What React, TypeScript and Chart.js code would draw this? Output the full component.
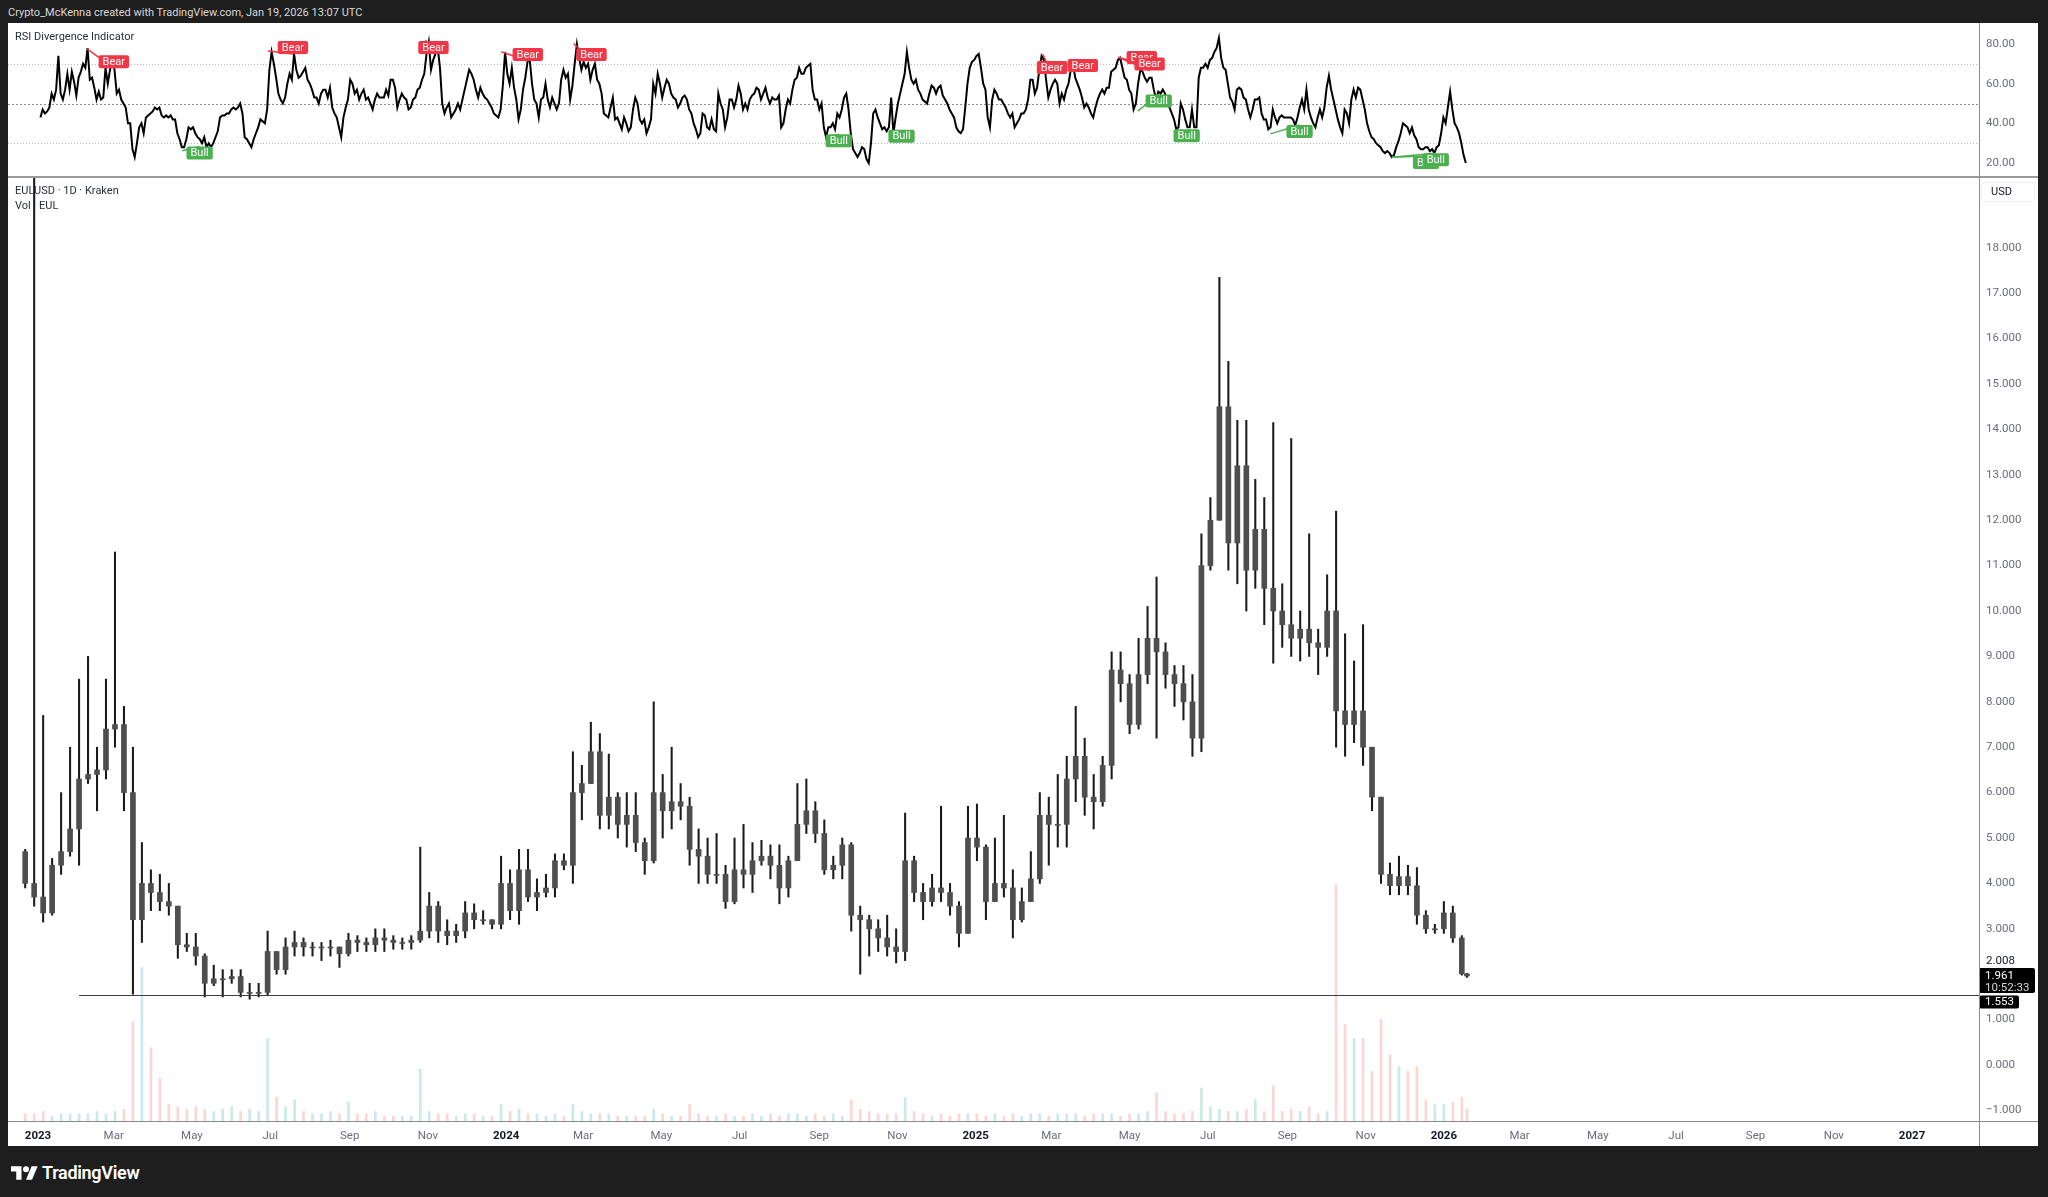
import React, { useEffect, useRef } from "react";
import { Chart, registerables } from "chart.js";

Chart.register(...registerables);

// ---------------- data (days are counted from 2023-01-01 UTC) ----------------
const FIRST_WEEK_START_DAY = -13; // Monday 2022-12-19
const LAST_DAY = 1114; // Monday 2026-01-19
const FIRST_OPEN = 4.7;

// weekly candles (EULUSD, Kraken)
const weeklyHigh = [
  4.75, 21, 7.7, 4.55, 6.0, 7.0, 8.5, 9.0, 7.0, 8.5,
  11.3, 7.9, 7.0, 4.9, 4.3, 4.2, 4.0, 3.5, 2.9, 2.9,
  2.45, 2.2, 2.1, 2.1, 2.1, 1.8, 1.8, 2.95, 2.5, 2.8,
  2.95, 2.8, 2.7, 2.7, 2.75, 2.6, 2.9, 2.85, 2.8, 3.0,
  3.0, 2.85, 2.8, 2.85, 4.8, 3.8, 3.6, 3.2, 3.1, 3.6,
  3.55, 3.4, 3.2, 4.6, 4.3, 4.75, 4.75, 4.1, 4.2, 4.65,
  4.65, 6.9, 6.6, 7.55, 7.3, 6.85, 6.0, 6.0, 6.0, 5.0,
  8.0, 6.4, 7.0, 6.2, 5.9, 5.2, 5.0, 5.1, 4.4, 5.0,
  5.3, 4.9, 4.95, 4.85, 4.85, 4.6, 6.2, 6.3, 5.8, 5.4,
  4.6, 5.0, 4.9, 3.5, 3.3, 3.2, 3.3, 3.0, 5.55, 4.6,
  4.0, 4.2, 5.7, 4.0, 3.6, 5.7, 5.75, 4.85, 5.0, 5.5,
  4.3, 3.9, 4.7, 6.0, 5.9, 6.4, 6.8, 7.9, 7.2, 6.4,
  6.8, 9.1, 9.1, 8.6, 9.4, 10.1, 10.75, 9.3, 8.8, 8.8,
  8.6, 11.7, 12.5, 17.35, 15.5, 14.2, 14.2, 12.9, 12.5, 14.15,
  10.6, 13.8, 10.0, 11.7, 9.6, 10.8, 12.2, 9.5, 8.9, 9.7,
  7.0, 5.9, 4.45, 4.6, 4.4, 4.35, 3.4, 3.1, 3.6, 3.5,
  2.85, 2.02,
];
const weeklyLow = [
  3.9, 3.5, 3.15, 3.3, 4.2, 4.6, 4.4, 6.2, 5.6, 6.3,
  7.0, 5.6, 1.56, 2.7, 3.4, 3.4, 3.3, 2.35, 2.5, 2.2,
  1.5, 1.75, 1.5, 1.8, 1.5, 1.45, 1.5, 1.55, 2.0, 2.0,
  2.4, 2.4, 2.4, 2.3, 2.4, 2.15, 2.4, 2.5, 2.5, 2.5,
  2.5, 2.55, 2.55, 2.55, 2.7, 2.8, 2.7, 2.65, 2.7, 2.8,
  3.0, 3.1, 3.0, 3.0, 3.2, 3.1, 3.6, 3.4, 3.7, 3.7,
  4.3, 4.0, 5.4, 6.2, 5.2, 5.2, 5.0, 4.8, 4.7, 4.2,
  4.45, 5.0, 5.2, 5.4, 4.4, 4.0, 4.0, 4.0, 3.45, 3.55,
  3.9, 3.8, 4.4, 4.1, 3.55, 3.7, 4.5, 5.1, 4.9, 4.2,
  4.1, 4.1, 2.95, 2.0, 2.4, 2.5, 2.4, 2.25, 2.3, 3.6,
  3.2, 3.5, 3.6, 3.3, 2.6, 2.9, 4.5, 3.2, 3.6, 3.7,
  2.8, 3.15, 3.6, 4.0, 4.4, 4.8, 4.8, 5.8, 5.5, 5.2,
  5.7, 6.3, 8.0, 7.3, 7.4, 8.4, 7.2, 8.3, 7.9, 7.6,
  6.8, 6.9, 10.9, 12.0, 10.9, 10.6, 10.0, 10.5, 9.7, 8.85,
  9.2, 9.0, 8.9, 9.0, 8.6, 9.0, 7.0, 6.8, 7.1, 6.6,
  5.6, 4.0, 3.75, 3.75, 3.75, 3.1, 2.9, 2.9, 2.9, 2.7,
  1.98, 1.93,
];
const weeklyClose = [
  4.0, 3.7, 3.35, 4.4, 4.7, 5.2, 6.3, 6.4, 6.5, 7.4,
  7.5, 6.0, 3.2, 4.0, 3.8, 3.6, 3.5, 2.65, 2.6, 2.4,
  1.8, 1.9, 1.9, 1.95, 1.6, 1.6, 1.6, 2.5, 2.1, 2.6,
  2.7, 2.6, 2.6, 2.6, 2.6, 2.45, 2.75, 2.7, 2.65, 2.8,
  2.75, 2.7, 2.7, 2.75, 2.95, 3.5, 2.95, 2.85, 2.95, 3.35,
  3.2, 3.2, 3.1, 4.0, 3.4, 4.3, 3.7, 3.8, 3.9, 4.5,
  4.4, 6.0, 6.2, 6.9, 5.5, 5.9, 5.3, 5.5, 4.9, 4.5,
  6.0, 5.6, 5.8, 5.7, 4.75, 4.6, 4.2, 4.2, 3.6, 4.3,
  4.2, 4.5, 4.6, 4.4, 3.9, 4.5, 5.3, 5.6, 5.1, 4.3,
  4.4, 4.85, 3.3, 3.2, 3.0, 2.8, 2.6, 2.5, 4.5, 3.8,
  3.6, 3.9, 3.8, 3.5, 2.9, 5.0, 4.8, 3.6, 4.0, 3.9,
  3.2, 3.6, 4.1, 5.5, 5.3, 5.3, 6.3, 6.8, 5.9, 5.8,
  6.6, 8.7, 8.4, 7.5, 8.6, 9.4, 9.1, 8.6, 8.4, 8.0,
  7.2, 11.0, 12.0, 14.5, 11.5, 13.2, 10.9, 11.8, 10.5, 10.0,
  9.7, 9.4, 9.6, 9.3, 9.2, 10.0, 7.8, 7.5, 7.8, 7.0,
  5.9, 4.2, 3.95, 4.15, 3.95, 3.3, 3.0, 3.0, 3.35, 2.8,
  2.008, 1.961,
];
// peak daily volume of each week, relative (100 = largest bar)
const weeklyVolume = [
  3, 3, 4, 2, 3, 3, 3, 3, 4, 3,
  4, 5, 42, 65, 31, 18, 7, 6, 5, 6,
  5, 4, 5, 6, 4, 5, 4, 35, 10, 6,
  9, 4, 3, 3, 4, 3, 8, 3, 3, 4,
  2, 2, 2, 2, 22, 4, 3, 3, 2, 3,
  3, 2, 2, 7, 4, 5, 3, 3, 2, 3,
  2, 7, 4, 3, 3, 3, 2, 2, 2, 2,
  5, 3, 2, 2, 7, 3, 2, 2, 3, 2,
  2, 3, 2, 3, 2, 3, 3, 2, 3, 2,
  3, 2, 9, 5, 4, 3, 3, 3, 10, 4,
  3, 2, 3, 2, 3, 3, 3, 2, 3, 2,
  3, 2, 3, 3, 2, 3, 3, 3, 2, 3,
  3, 3, 2, 3, 3, 4, 12, 4, 3, 3,
  4, 14, 6, 5, 4, 4, 5, 9, 4, 15,
  4, 5, 4, 6, 3, 4, 100, 41, 35, 35,
  21, 43, 28, 23, 21, 23, 9, 7, 7, 8,
  10, 5,
];

// RSI (14) sampled every 1.75 days
const RSI_FIRST_DAY = 1.875;
const RSI_STEP_DAYS = 1.75;
const rsiValues = [
  43, 47, 45, 46, 48, 55, 52, 57, 74, 55, 52, 57, 65, 57, 66, 61, 54, 63, 66, 70,
  68, 78, 62, 63, 58, 52, 56, 52, 53, 68, 60, 67, 72, 67, 55, 57, 52, 50, 48, 40,
  40, 27, 23, 30, 38, 40, 35, 43, 44, 45, 46, 48, 47, 48, 44, 43, 44, 43, 44, 42,
  42, 35, 32, 28, 28, 32, 38, 37, 38, 35, 33, 32, 30, 33, 28, 30, 28, 30, 33, 36,
  43, 44, 44, 45, 45, 47, 48, 47, 48, 50, 45, 33, 32, 30, 28, 32, 35, 38, 42, 41,
  40, 47, 67, 76, 70, 63, 55, 52, 50, 53, 60, 65, 62, 75, 67, 63, 64, 66, 68, 62,
  60, 57, 53, 53, 50, 55, 57, 57, 53, 58, 48, 45, 43, 38, 33, 43, 48, 52, 62, 60,
  55, 57, 52, 55, 57, 52, 53, 50, 47, 52, 55, 53, 53, 53, 57, 54, 62, 62, 58, 48,
  52, 55, 53, 52, 47, 48, 52, 53, 57, 58, 62, 65, 75, 81, 67, 72, 75, 78, 68, 50,
  45, 48, 50, 43, 45, 47, 50, 47, 52, 57, 62, 67, 65, 62, 57, 53, 58, 55, 53, 52,
  50, 48, 45, 44, 43, 47, 59, 76, 65, 60, 68, 58, 52, 42, 47, 57, 63, 71, 72, 60,
  52, 50, 43, 52, 53, 60, 52, 48, 53, 50, 47, 50, 62, 67, 63, 65, 52, 59, 70, 80,
  73, 67, 71, 68, 70, 62, 67, 70, 62, 60, 55, 45, 44, 43, 48, 53, 42, 43, 40, 37,
  43, 40, 36, 38, 47, 53, 50, 42, 40, 42, 35, 38, 42, 60, 55, 65, 60, 53, 58, 62,
  60, 55, 53, 52, 48, 50, 53, 54, 52, 47, 45, 40, 37, 33, 35, 45, 44, 38, 37, 42,
  37, 36, 55, 50, 47, 38, 43, 52, 52, 48, 52, 59, 55, 47, 50, 47, 52, 54, 55, 58,
  57, 52, 55, 58, 53, 50, 53, 52, 52, 54, 38, 40, 47, 52, 50, 57, 62, 63, 68, 65,
  65, 68, 69, 70, 57, 52, 52, 47, 50, 38, 33, 38, 38, 40, 37, 45, 43, 47, 53, 55,
  47, 35, 27, 25, 23, 25, 28, 27, 22, 20, 30, 45, 47, 43, 40, 37, 38, 36, 38, 53,
  35, 43, 50, 55, 60, 65, 76, 68, 62, 60, 62, 57, 55, 52, 51, 50, 55, 59, 58, 55,
  58, 59, 54, 52, 50, 47, 45, 43, 38, 36, 35, 37, 48, 60, 68, 71, 72, 74, 75, 68,
  60, 57, 43, 38, 52, 57, 55, 52, 52, 50, 48, 45, 43, 45, 38, 40, 42, 45, 45, 47,
  52, 62, 62, 55, 58, 67, 74, 72, 62, 53, 57, 60, 62, 60, 50, 55, 52, 57, 60, 67,
  70, 63, 60, 57, 53, 48, 50, 48, 45, 43, 48, 52, 55, 57, 55, 58, 58, 66, 67, 68,
  72, 73, 68, 63, 62, 57, 55, 47, 50, 60, 67, 66, 63, 61, 63, 63, 57, 52, 56, 55,
  57, 55, 50, 48, 45, 42, 37, 38, 50, 47, 42, 38, 38, 47, 38, 38, 63, 68, 68, 70,
  68, 72, 73, 76, 78, 83, 73, 68, 67, 60, 53, 51, 47, 57, 58, 57, 53, 52, 47, 43,
  47, 52, 52, 53, 45, 42, 42, 37, 38, 47, 43, 40, 43, 44, 43, 43, 43, 43, 42, 39,
  43, 48, 52, 47, 57, 47, 43, 40, 38, 43, 47, 43, 48, 58, 64, 57, 52, 47, 42, 38,
  35, 47, 45, 40, 52, 57, 53, 58, 57, 52, 47, 40, 36, 33, 32, 30, 29, 28, 26, 25,
  26, 25, 23, 24, 28, 31, 35, 40, 39, 38, 35, 38, 34, 32, 28, 27, 27, 28, 28, 26,
  27, 25, 28, 29, 35, 43, 40, 48, 56, 47, 40, 38, 35, 30, 24, 20,
];

// divergence signals: [pivot1 day, pivot1 rsi, pivot2 day, pivot2 rsi]
const bearSignals = [
  [38.2, 77.5, 59.1, 67.8],
  [179.2, 76.5, 198.7, 75.0],
  [302.0, 82.0, 308.3, 75.0],
  [361.2, 76.1, 381.8, 71.4],
  [417.6, 80.3, 431.5, 71.4],
  [783.4, 74.8, 790.5, 64.9],
  [814.5, 65.9, 814.5, 65.9],
  [842.3, 73.3, 860.5, 69.9],
  [842.3, 73.3, 866.6, 66.6],
];
const bullSignals = [
  [112.4, 26.2, 126.0, 28.3],
  [614.3, 33.3, 624.3, 34.5],
  [673.2, 36.8, 673.2, 36.8],
  [857.4, 46.2, 873.7, 54.6],
  [895.5, 37.0, 895.5, 37.0],
  [960.8, 34.7, 983.5, 39.2],
  [1055.4, 22.9, 1082.1, 23.6],
  [1055.4, 22.9, 1089.7, 24.9],
];

const RSI_LEVELS = [70, 50, 30];
const RSI_TICKS = [20, 40, 60, 80];
const PRICE_TICKS = [18, 17, 16, 15, 14, 13, 12, 11, 10, 9, 8, 7, 6, 5, 4, 3, 1, 0, -1];
const HLINE_LEVEL = 1.553;
const HLINE_FROM_DAY = 32;
const LAST_PRICE = 1.961;
const PREV_LABEL = "2.008";
const COUNTDOWN = "10:52:33";
const MONTHS = ["Jan", "Feb", "Mar", "Apr", "May", "Jun", "Jul", "Aug", "Sep", "Oct", "Nov", "Dec"];
const TICK_YEARS = [2023, 2024, 2025, 2026, 2027];
const TICK_MONTHS = [0, 2, 4, 6, 8, 10];

// ---------------- layout ----------------
const X_MIN = -23.4;
const X_MAX = 1513.2;
const PRICE_MIN = -1.233;
const PRICE_MAX = 19.56;
const RSI_MIN = 12.95;
const RSI_MAX = 90.6;
const AXIS_W = 59;
const XAXIS_H = 25;
const FONT = "Roboto, 'Noto Sans', sans-serif";

const DAY0 = Date.UTC(2023, 0, 1);
const dayOf = (y: number, m: number) => (Date.UTC(y, m, 1) - DAY0) / 86400000;
const xTicks: { v: number; label: string; year: boolean }[] = [];
TICK_YEARS.forEach((y) =>
  TICK_MONTHS.forEach((m) => {
    if (y === 2027 && m > 0) return;
    xTicks.push({ v: dayOf(y, m), label: m === 0 ? String(y) : MONTHS[m], year: m === 0 });
  })
);

const fixScale = (w?: number, h?: number) => (s: any) => {
  if (w !== undefined) s.width = w;
  if (h !== undefined) s.height = h;
  s.paddingTop = 0;
  s.paddingBottom = 0;
  s.paddingLeft = 0;
  s.paddingRight = 0;
};

function rr(ctx: any, x: number, y: number, w: number, h: number, r: number) {
  ctx.beginPath();
  ctx.moveTo(x + r, y);
  ctx.lineTo(x + w - r, y);
  ctx.quadraticCurveTo(x + w, y, x + w, y + r);
  ctx.lineTo(x + w, y + h - r);
  ctx.quadraticCurveTo(x + w, y + h, x + w - r, y + h);
  ctx.lineTo(x + r, y + h);
  ctx.quadraticCurveTo(x, y + h, x, y + h - r);
  ctx.lineTo(x, y + r);
  ctx.quadraticCurveTo(x, y, x + r, y);
  ctx.closePath();
}

const rsiOverlay = {
  id: "rsiOverlay",
  beforeDatasetsDraw(chart: any) {
    const { ctx, chartArea: ca, scales } = chart;
    ctx.save();
    RSI_LEVELS.forEach((lv) => {
      const y = Math.round(scales.y.getPixelForValue(lv)) + 0.5;
      ctx.strokeStyle = lv === 50 ? "#8f8f8f" : "#b8b8b8";
      ctx.setLineDash(lv === 50 ? [2, 2] : [1, 2]);
      ctx.lineWidth = 1;
      ctx.beginPath();
      ctx.moveTo(ca.left, y);
      ctx.lineTo(ca.right, y);
      ctx.stroke();
    });
    ctx.restore();
  },
  afterDatasetsDraw(chart: any) {
    const { ctx, scales } = chart;
    const draw = (sig: number[], bear: boolean) => {
      const color = bear ? "#f23645" : "#4caf50";
      const x1 = scales.x.getPixelForValue(sig[0]);
      const y1 = scales.y.getPixelForValue(sig[1]);
      const x2 = scales.x.getPixelForValue(sig[2]);
      const y2 = scales.y.getPixelForValue(sig[3]);
      ctx.save();
      ctx.strokeStyle = color;
      ctx.lineWidth = 1.5;
      ctx.beginPath();
      ctx.moveTo(x1, y1);
      ctx.lineTo(x2, y2);
      ctx.stroke();
      const text = bear ? "Bear" : "Bull";
      ctx.font = `11px ${FONT}`;
      const w = ctx.measureText(text).width + 8;
      const h = 13;
      const top = bear ? y2 - h : y2;
      ctx.fillStyle = color;
      rr(ctx, x2 - w / 2, top, w, h, 2);
      ctx.fill();
      ctx.fillStyle = "#ffffff";
      ctx.textAlign = "center";
      ctx.textBaseline = "middle";
      ctx.fillText(text, x2, top + h / 2 + 0.5);
      ctx.restore();
    };
    bearSignals.forEach((s) => draw(s, true));
    bullSignals.forEach((s) => draw(s, false));
  },
};

const mainOverlay = {
  id: "mainOverlay",
  afterDatasetsDraw(chart: any) {
    const { ctx, chartArea: ca, scales } = chart;
    const y = Math.round(scales.y.getPixelForValue(HLINE_LEVEL)) + 0.5;
    ctx.save();
    ctx.strokeStyle = "#3d3d3d";
    ctx.lineWidth = 1;
    ctx.beginPath();
    ctx.moveTo(scales.x.getPixelForValue(HLINE_FROM_DAY), y);
    ctx.lineTo(ca.right, y);
    ctx.stroke();
    ctx.restore();
  },
  afterDraw(chart: any) {
    const { ctx, chartArea: ca, scales } = chart;
    const x0 = ca.right;
    const yl = scales.y.getPixelForValue(LAST_PRICE);
    const yh = Math.max(scales.y.getPixelForValue(HLINE_LEVEL), yl + 26);
    ctx.save();
    ctx.textBaseline = "middle";
    ctx.textAlign = "left";
    ctx.font = `11.5px ${FONT}`;
    ctx.fillStyle = "#131722";
    ctx.fillText(PREV_LABEL, x0 + 7, yl - 15);
    ctx.fillStyle = "#000000";
    rr(ctx, x0, yl - 8, 56, 25, 2);
    ctx.fill();
    ctx.fillStyle = "#ffffff";
    ctx.fillText(LAST_PRICE.toFixed(3), x0 + 6, yl + 0.5);
    ctx.fillStyle = "#d6d6d6";
    ctx.fillText(COUNTDOWN, x0 + 6, yl + 12);
    ctx.fillStyle = "#000000";
    rr(ctx, x0, yh - 6.5, 40, 13, 2);
    ctx.fill();
    ctx.fillStyle = "#ffffff";
    ctx.fillText(HLINE_LEVEL.toFixed(3), x0 + 6, yh + 0.5);
    ctx.restore();
  },
};

export default function App() {
  const rsiRef = useRef<HTMLCanvasElement>(null);
  const mainRef = useRef<HTMLCanvasElement>(null);

  useEffect(() => {
    Chart.defaults.font.family = FONT;

    const centers = weeklyClose.map((_, k) => {
      const start = FIRST_WEEK_START_DAY + 7 * k;
      const end = Math.min(start + 6, LAST_DAY);
      return (start + end) / 2;
    });
    const opens = weeklyClose.map((_, k) => (k === 0 ? FIRST_OPEN : weeklyClose[k - 1]));

    const xScaleBase = {
      type: "linear",
      min: X_MIN,
      max: X_MAX,
      offset: false,
      grid: { display: false, offset: false, drawTicks: false },
      border: { display: false },
    };

    const rsiChart = new Chart(rsiRef.current as HTMLCanvasElement, {
      type: "line",
      data: {
        datasets: [
          {
            data: rsiValues.map((v, i) => ({ x: RSI_FIRST_DAY + i * RSI_STEP_DAYS, y: v })),
            borderColor: "#000000",
            borderWidth: 2,
            pointRadius: 0,
            tension: 0,
          },
        ],
      },
      options: {
        responsive: false,
        animation: false,
        events: [],
        layout: { padding: 0 },
        plugins: { legend: { display: false }, tooltip: { enabled: false } },
        scales: {
          x: { ...xScaleBase, display: false, afterFit: fixScale(undefined, 0) } as any,
          y: {
            type: "linear",
            position: "right",
            min: RSI_MIN,
            max: RSI_MAX,
            grid: { display: false, drawTicks: false },
            border: { display: false },
            ticks: {
              padding: 7,
              color: "#6a6d78",
              font: { size: 11.5, family: FONT },
              callback: (v: any) => Number(v).toFixed(2),
            },
            afterBuildTicks: (s: any) => {
              s.ticks = RSI_TICKS.map((value) => ({ value }));
            },
            afterFit: fixScale(AXIS_W),
          } as any,
        },
      },
      plugins: [rsiOverlay],
    } as any);

    const mainChart = new Chart(mainRef.current as HTMLCanvasElement, {
      type: "bar",
      data: {
        datasets: [
          {
            label: "body",
            data: centers.map((x, k) => ({ x, y: [opens[k], weeklyClose[k]] })),
            backgroundColor: "#4e4e4e",
            barThickness: 5,
            minBarLength: 1,
            grouped: false,
            order: 1,
            yAxisID: "y",
          },
          {
            label: "wick",
            data: centers.map((x, k) => ({ x, y: [weeklyLow[k], weeklyHigh[k]] })),
            backgroundColor: "#1a1a1a",
            barThickness: 1.4,
            grouped: false,
            order: 2,
            yAxisID: "y",
          },
          {
            label: "volume",
            data: centers.map((x, k) => ({ x, y: weeklyVolume[k] })),
            backgroundColor: weeklyClose.map((c, k) =>
              c >= opens[k] ? "rgba(38,166,154,0.24)" : "rgba(239,83,80,0.24)"
            ),
            barThickness: 2,
            grouped: false,
            order: 3,
            yAxisID: "vol",
          },
        ],
      },
      options: {
        responsive: false,
        animation: false,
        events: [],
        layout: { padding: 0 },
        plugins: { legend: { display: false }, tooltip: { enabled: false } },
        scales: {
          x: {
            ...xScaleBase,
            position: "bottom",
            ticks: {
              autoSkip: false,
              maxRotation: 0,
              minRotation: 0,
              padding: 8,
              color: (c: any) => (xTicks[c.index] && xTicks[c.index].year ? "#131722" : "#6a6d78"),
              font: (c: any) => ({
                family: FONT,
                size: 11.5,
                weight: xTicks[c.index] && xTicks[c.index].year ? "bold" : "normal",
              }),
              callback: (_v: any, i: number) => (xTicks[i] ? xTicks[i].label : ""),
            },
            afterBuildTicks: (s: any) => {
              s.ticks = xTicks.map((t) => ({ value: t.v }));
            },
            afterFit: fixScale(undefined, XAXIS_H),
          } as any,
          y: {
            type: "linear",
            position: "right",
            min: PRICE_MIN,
            max: PRICE_MAX,
            grid: { display: false, drawTicks: false },
            border: { display: false },
            ticks: {
              padding: 7,
              color: "#6a6d78",
              font: { size: 11.5, family: FONT },
              callback: (v: any) => {
                const n = Number(v);
                return (n < 0 ? "\u2212" : "") + Math.abs(n).toFixed(3);
              },
            },
            afterBuildTicks: (s: any) => {
              s.ticks = PRICE_TICKS.map((value) => ({ value }));
            },
            afterFit: fixScale(AXIS_W),
          } as any,
          vol: {
            type: "linear",
            display: false,
            min: 0,
            max: 400,
          } as any,
        },
      },
      plugins: [mainOverlay],
    } as any);

    return () => {
      rsiChart.destroy();
      mainChart.destroy();
    };
  }, []);

  const legendText: React.CSSProperties = {
    position: "absolute",
    fontSize: 11,
    lineHeight: "13px",
    color: "#2a2e39",
    whiteSpace: "nowrap",
  };

  return (
    <div
      style={{
        position: "fixed",
        left: 0,
        top: 0,
        width: 2048,
        height: 1197,
        background: "#1e1e1e",
        overflow: "hidden",
        fontFamily: FONT,
      }}
    >
      <div style={{ position: "absolute", left: 8, top: 6, fontSize: 11, lineHeight: "14px", color: "#d8d8d8" }}>
        Crypto_McKenna created with TradingView.com, Jan 19, 2026 13:07 UTC
      </div>
      <div style={{ position: "absolute", left: 8, top: 23, width: 2030, height: 1123, background: "#ffffff" }} />
      <canvas
        ref={rsiRef}
        width={2030}
        height={154}
        style={{ position: "absolute", left: 8, top: 23, width: 2030, height: 154 }}
      />
      <canvas
        ref={mainRef}
        width={2030}
        height={969}
        style={{ position: "absolute", left: 8, top: 177, width: 2030, height: 969 }}
      />
      {/* pane borders */}
      <div style={{ position: "absolute", left: 8, top: 176, width: 2030, height: 2, background: "#9a9a9a" }} />
      <div style={{ position: "absolute", left: 1979, top: 23, width: 1, height: 1123, background: "#8c8c8c" }} />
      <div style={{ position: "absolute", left: 8, top: 1121, width: 2030, height: 1, background: "#8c8c8c" }} />
      {/* legends */}
      <div style={{ ...legendText, left: 15, top: 30 }}>RSI Divergence Indicator</div>
      <div style={{ ...legendText, left: 15, top: 184 }}>EULUSD · 1D · Kraken</div>
      <div style={{ ...legendText, left: 15, top: 199 }}>Vol · EUL</div>
      <div
        style={{
          position: "absolute",
          left: 1981,
          top: 182,
          width: 54,
          height: 20,
          border: "1px solid #eceef2",
          borderRadius: 3,
          boxSizing: "border-box",
          fontSize: 11,
          lineHeight: "18px",
          color: "#131722",
          paddingLeft: 9,
        }}
      >
        USD
      </div>
      {/* TradingView logo */}
      <svg
        style={{ position: "absolute", left: 11, top: 1166 }}
        width={27}
        height={14}
        viewBox="0 4 36 18"
      >
        <path d="M14 22H7V11H0V4h14v18zM28 22h-8l7.5-18h8L28 22z" fill="#ffffff" />
        <circle cx="20" cy="8" r="4" fill="#ffffff" />
      </svg>
      <div
        style={{
          position: "absolute",
          left: 42,
          top: 1162,
          fontSize: 18,
          lineHeight: "22px",
          fontWeight: 600,
          color: "#ffffff",
          letterSpacing: -0.3,
        }}
      >
        TradingView
      </div>
    </div>
  );
}
